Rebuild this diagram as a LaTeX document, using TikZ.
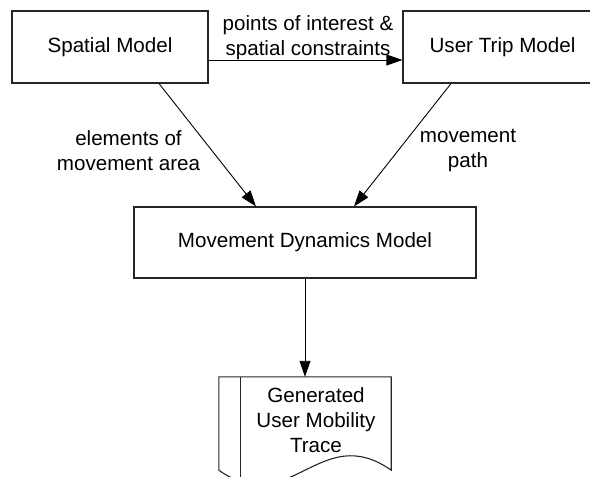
\documentclass[tikz,border=0pt]{standalone}
\usepackage{fontspec}
\setmainfont{Liberation Sans}
\usetikzlibrary{arrows.meta}
\newcommand\diagfont{\fontsize{20.6}{25}\selectfont}
\begin{document}
\begin{tikzpicture}[x=1pt,y=-1pt,
  box/.style={draw=black!85, line width=1.1pt, rectangle, inner sep=0pt, font=\diagfont, align=center},
  lbl/.style={font=\diagfont, align=center, inner sep=0pt},
  conn/.style={line width=0.9pt, -{Triangle[length=16pt,width=11pt]}},
  docline/.style={draw=black!85, line width=1.1pt}]
\useasboundingbox (0,0) rectangle (590,477);
\clip (0,0) rectangle (590,477);
\node[box, minimum width=196pt, minimum height=72pt] (sm) at (110,47) {Spatial Model};
\node[box, minimum width=199pt, minimum height=72pt] (ut) at (502.5,47) {User Trip Model};
\node[box, minimum width=342pt, minimum height=71pt] (mdm) at (305,242.5) {Movement Dynamics Model};
\node[minimum width=172pt, minimum height=93pt, inner sep=0pt] (doc) at (305,423.5) {};
\draw[docline] (doc.north west) -- (doc.south west)
  .. controls +(71,50) and +(-71,-50) .. (doc.south east) -- (doc.north east) -- cycle;
\draw[docline] ([xshift=22pt]doc.north west) -- ([xshift=22pt,yshift=-12pt]doc.south west);
\node[lbl] (dt) at (316,420) {Generated\\User Mobility\\Trace};
\draw[conn] ([yshift=-13pt]sm.east) -- ([yshift=-13pt]ut.west);
\draw[conn] ([xshift=49pt]sm.south) -- ([xshift=-49pt]mdm.north);
\draw[conn] ([xshift=-51.5pt]ut.south) -- ([xshift=49pt]mdm.north);
\draw[conn] (mdm.south) -- (doc.north);
\node[lbl] (l1) at (308,37.5) {points of interest \&\\spatial constraints};
\node[lbl] (l2) at (128.5,150.5) {elements of\\movement area};
\node[lbl] (l3) at (468,150.5) {movement\\path};
\end{tikzpicture}
\end{document}
